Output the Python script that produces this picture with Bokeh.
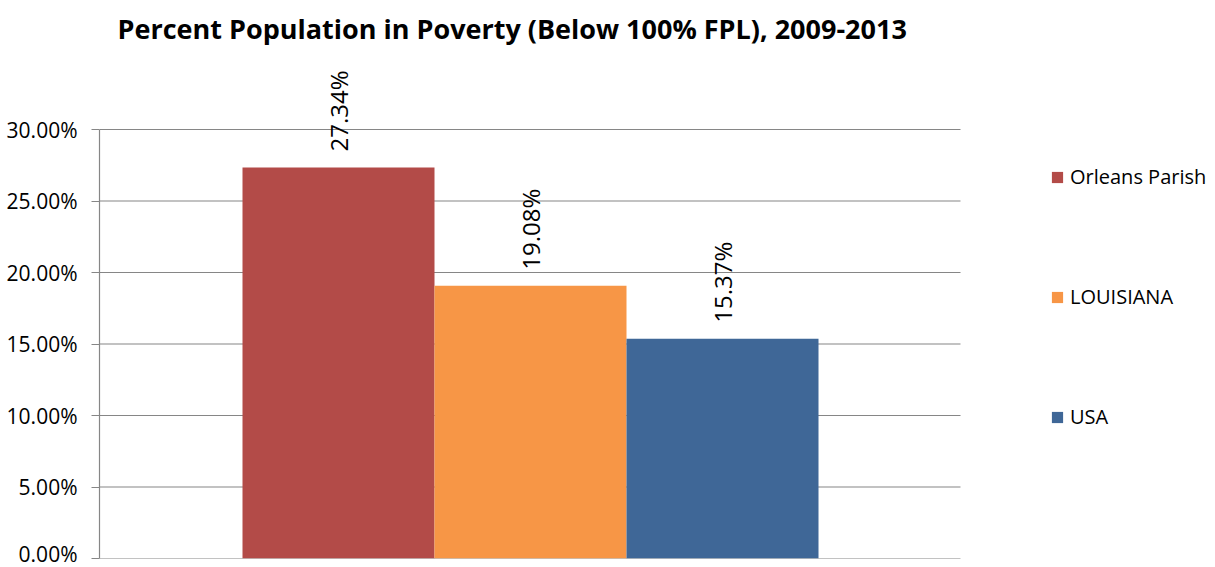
from bokeh.plotting import figure
from bokeh.models import (ColumnDataSource, Range1d, FixedTicker, NumeralTickFormatter,
                          Legend, LegendItem, LabelSet, Label)
from bokeh.core.properties import value
from bokeh.embed import file_html
from bokeh.resources import INLINE

# ---- data ----
categories = ["Orleans Parish", "LOUISIANA", "USA"]
poverty_rate = [0.2734, 0.1908, 0.1537]
colors = ["#B34B48", "#F79646", "#3F6797"]
y_ticks = [0.0, 0.05, 0.10, 0.15, 0.20, 0.25, 0.30]
title_text = "Percent Population in Poverty (Below 100% FPL), 2009-2013"

FONT = "Open Sans"

# layout (pixels)
W, H = 1215, 567
PL, PB = 99, 9            # frame left / bottom border
AX_TOP_PX = 129           # pixel row of the 30% gridline
GROUP_L, GROUP_R = 242, 818

xs = list(range(len(categories)))
labels = [f"{v * 100:.2f}%" for v in poverty_rate]
src = ColumnDataSource(dict(x=xs, top=poverty_rate, color=colors, name=categories, label=labels))

# scales: frame spans PL..W horizontally, 0..H-PB vertically
px_per_unit = (GROUP_R - GROUP_L) / len(categories)
x_start = -0.5 - (GROUP_L - PL) / px_per_unit
x_axis_end = x_start + (960 - PL) / px_per_unit
x_end = x_start + (W - PL) / px_per_unit
y_max_tick = max(y_ticks)
frame_h = H - PB
y_end = y_max_tick * frame_h / (frame_h - AX_TOP_PX)

p = figure(width=W, height=H, output_backend="svg", toolbar_location=None,
           x_range=Range1d(x_start, x_end), y_range=Range1d(0, y_end),
           min_border_left=PL, min_border_right=0, min_border_top=0, min_border_bottom=PB)
p.xaxis.visible = False
p.outline_line_color = None
p.xgrid.grid_line_color = None
p.ygrid.grid_line_color = None

# horizontal gridlines (limited to the plot area)
p.segment(x0=[x_start] * len(y_ticks), x1=[x_axis_end] * len(y_ticks), y0=y_ticks, y1=y_ticks,
          line_color="#868686", line_width=1.2)

bars = p.vbar(x="x", top="top", width=1.0, bottom=0, color="color", line_color=None, source=src)

p.add_layout(LabelSet(x="x", y="top", text="label", source=src, angle=1.5708,
                      text_align="left", text_baseline="middle", y_offset=16,
                      text_font=value(FONT), text_font_size="24px", text_color="#000000"))

p.add_layout(Label(x=18, y=frame_h - 28, x_units="screen", y_units="screen", text=title_text,
                   text_font=FONT, text_font_size="27px", text_font_style="bold",
                   text_align="left", text_baseline="middle", text_color="#000000"))

ya = p.yaxis[0]
ya.bounds = (0, y_max_tick)
ya.ticker = FixedTicker(ticks=y_ticks)
ya.formatter = NumeralTickFormatter(format="0.00%")
ya.axis_line_color = "#868686"
ya.axis_line_width = 1.2
ya.major_tick_line_color = "#868686"
ya.major_tick_out = 8
ya.major_tick_in = 0
ya.minor_tick_line_color = None
ya.major_label_standoff = 14
ya.major_label_text_font = FONT
ya.major_label_text_font_size = "21px"
ya.major_label_text_color = "#000000"

items = [LegendItem(label=categories[i], renderers=[bars], index=i) for i in range(len(categories))]
legend = Legend(items=items, location=(1050 - PL, 128), orientation="vertical",
                glyph_width=14, glyph_height=14, label_height=27, spacing=93,
                padding=0, margin=0, border_line_color=None, background_fill_alpha=0,
                label_text_font=FONT, label_text_font_size="20px", label_standoff=6,
                label_text_color="#000000")
p.add_layout(legend, "center")

open("out.html", "w").write(file_html(p, INLINE))
